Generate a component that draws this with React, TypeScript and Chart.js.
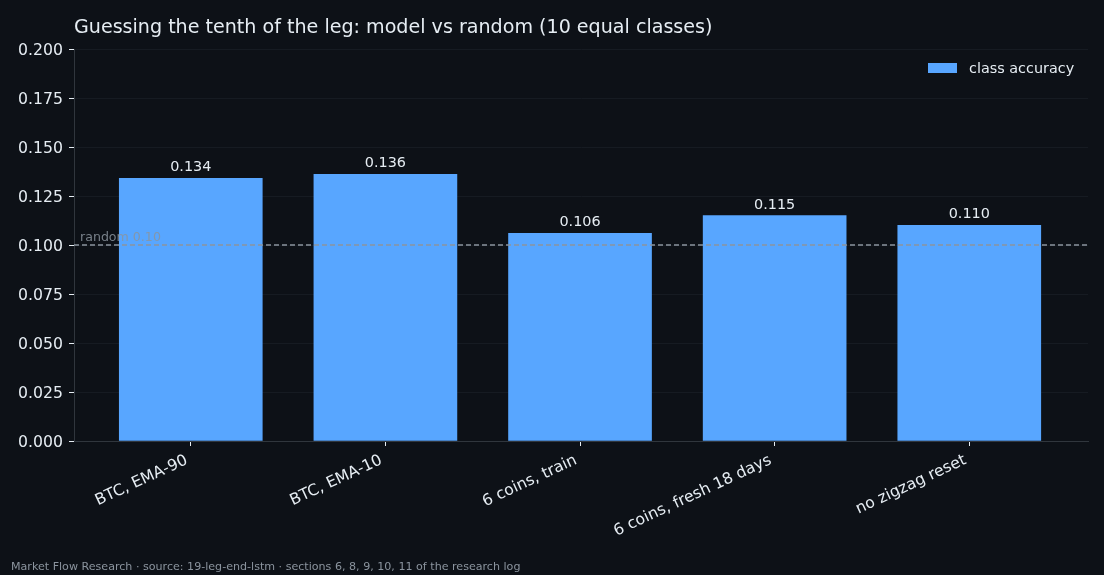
import { useEffect, useRef } from "react";
import { Chart, Plugin, registerables } from "chart.js";

Chart.register(...registerables);

const categories = ["BTC, EMA-90", "BTC, EMA-10", "6 coins, train", "6 coins, fresh 18 days", "no zigzag reset"];
const accuracy = [0.134, 0.136, 0.106, 0.115, 0.11];
const yTicks = [0, 0.025, 0.05, 0.075, 0.1, 0.125, 0.15, 0.175, 0.2];
const randomLevel = 0.1;

const TITLE = "Guessing the tenth of the leg: model vs random (10 equal classes)";
const FOOTER = "Market Flow Research · source: 19-leg-end-lstm · sections 6, 8, 9, 10, 11 of the research log";

const BG = "#0d1117";
const BAR = "#58a6ff";
const TEXT = "#e6edf3";
const MUTED = "#8b949e";
const FONT = "'DejaVu Sans', sans-serif";

const overlay: Plugin = {
  id: "overlay",
  beforeDraw(chart) {
    const { ctx, width, height } = chart;
    ctx.save();
    ctx.fillStyle = BG;
    ctx.fillRect(0, 0, width, height);
    ctx.restore();
  },
  afterDatasetsDraw(chart) {
    const { ctx, chartArea, scales } = chart;
    const x = scales.x;
    const y = scales.y;
    ctx.save();

    // random baseline
    const ry = y.getPixelForValue(randomLevel);
    ctx.strokeStyle = MUTED;
    ctx.lineWidth = 1.3;
    ctx.setLineDash([5, 3]);
    ctx.beginPath();
    ctx.moveTo(chartArea.left, ry);
    ctx.lineTo(chartArea.right, ry);
    ctx.stroke();
    ctx.setLineDash([]);

    ctx.font = `12.6px ${FONT}`;
    ctx.fillStyle = "rgba(139,148,158,0.85)";
    ctx.textAlign = "left";
    ctx.textBaseline = "alphabetic";
    ctx.fillText(`random ${randomLevel.toFixed(2)}`, chartArea.left + 6, ry - 4);

    // value labels
    ctx.font = `14.4px ${FONT}`;
    ctx.fillStyle = TEXT;
    ctx.textAlign = "center";
    ctx.textBaseline = "alphabetic";
    accuracy.forEach((v, i) => {
      ctx.fillText(v.toFixed(3), x.getPixelForValue(i), y.getPixelForValue(v) - 7);
    });

    // legend
    ctx.fillStyle = BAR;
    ctx.fillRect(928, 63, 29, 10);
    ctx.font = `14.4px ${FONT}`;
    ctx.fillStyle = TEXT;
    ctx.textAlign = "left";
    ctx.textBaseline = "middle";
    ctx.fillText("class accuracy", 969, 69.5);

    // title
    ctx.font = `19.1px ${FONT}`;
    ctx.textBaseline = "alphabetic";
    ctx.fillText(TITLE, chartArea.left, 33);

    // footer
    ctx.font = `11.1px ${FONT}`;
    ctx.fillStyle = MUTED;
    ctx.fillText(FOOTER, 11, 570);

    ctx.restore();
  },
};

export default function App() {
  const canvasRef = useRef<HTMLCanvasElement>(null);
  const chartRef = useRef<Chart | null>(null);

  useEffect(() => {
    document.body.style.margin = "0";
    document.body.style.background = BG;
    if (!canvasRef.current) return;
    if (chartRef.current) chartRef.current.destroy();

    chartRef.current = new Chart(canvasRef.current, {
      type: "bar",
      data: {
        datasets: [
          {
            label: "class accuracy",
            data: accuracy.map((v, i) => ({ x: i, y: v })),
            backgroundColor: BAR,
            borderWidth: 0,
            barThickness: 143,
          },
        ],
      },
      options: {
        responsive: true,
        maintainAspectRatio: false,
        animation: false,
        layout: { padding: { left: 0, right: 16, top: 49, bottom: 0 } },
        plugins: {
          legend: { display: false },
          tooltip: { enabled: false },
          title: { display: false },
        },
        scales: {
          x: {
            type: "linear",
            min: -0.6,
            max: 4.61,
            offset: false,
            afterBuildTicks: (scale) => {
              scale.ticks = categories.map((_, i) => ({ value: i }));
            },
            afterFit: (scale) => {
              scale.height = 134;
            },
            grid: {
              offset: false,
              drawOnChartArea: false,
              drawTicks: true,
              tickLength: 5,
              tickColor: TEXT,
            },
            border: { display: true, color: "#30363d", width: 1 },
            ticks: {
              autoSkip: false,
              minRotation: 25,
              maxRotation: 25,
              padding: 5,
              labelOffset: -4,
              color: TEXT,
              font: { family: FONT, size: 15.7 },
              callback: (value) => categories[Number(value)] ?? "",
            },
          },
          y: {
            type: "linear",
            min: 0,
            max: 0.2,
            afterBuildTicks: (scale) => {
              scale.ticks = yTicks.map((v) => ({ value: v }));
            },
            afterFit: (scale) => {
              scale.width = 74;
            },
            grid: {
              color: "#161b22",
              lineWidth: 1,
              drawTicks: true,
              tickLength: 5,
              tickColor: TEXT,
            },
            border: { display: true, color: "#30363d", width: 1 },
            ticks: {
              padding: 6,
              labelOffset: 1.5,
              color: TEXT,
              font: { family: FONT, size: 15.7 },
              callback: (value) => Number(value).toFixed(3),
            },
          },
        },
      },
      plugins: [overlay],
    });

    return () => {
      if (chartRef.current) {
        chartRef.current.destroy();
        chartRef.current = null;
      }
    };
  }, []);

  return (
    <div style={{ width: 1104, height: 575, position: "relative" }}>
      <canvas ref={canvasRef}></canvas>
    </div>
  );
}
